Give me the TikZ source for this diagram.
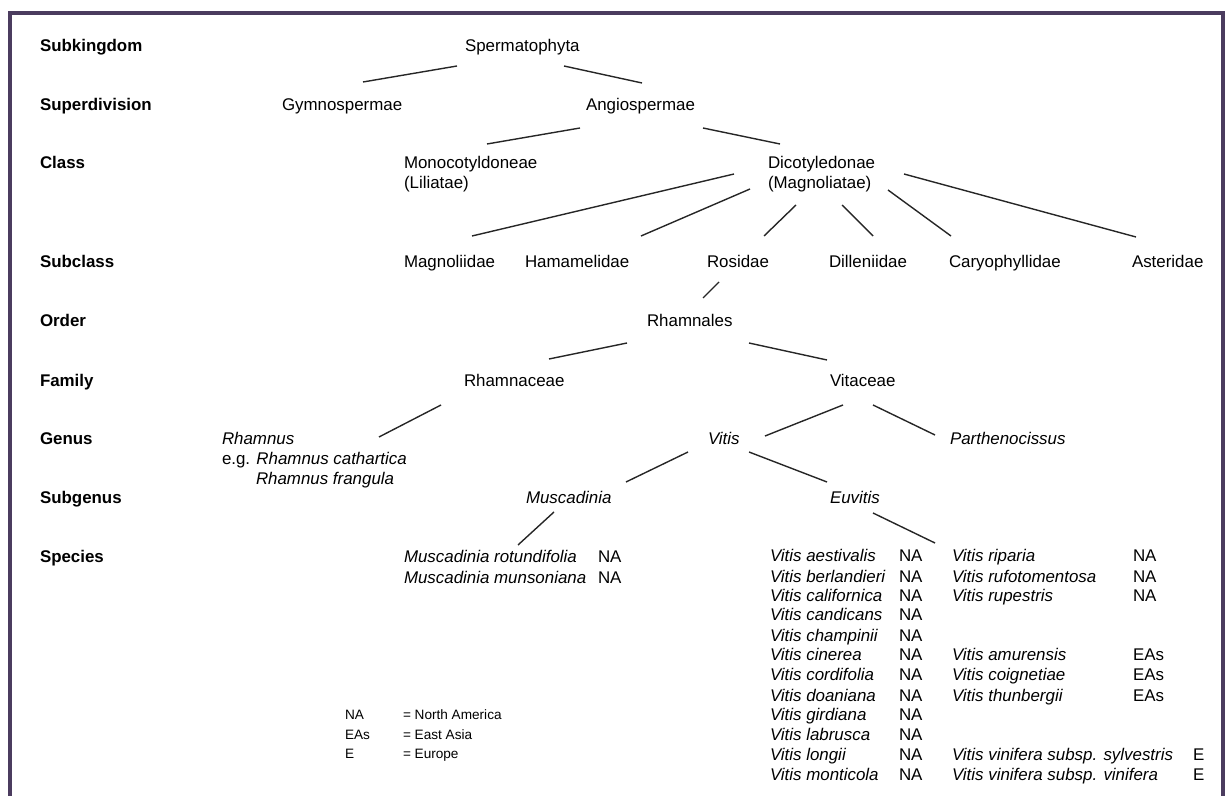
\documentclass[tikz,border=0pt]{standalone}
\usepackage{fontspec}
\setmainfont{Liberation Sans}
\usetikzlibrary{calc}
\definecolor{framepurple}{RGB}{75,60,95}

\begin{document}
\begin{tikzpicture}[x=0.5pt, y=-0.5pt,
    every node/.style={inner sep=0pt, outer sep=0pt, anchor=base west, font=\fontsize{8.45pt}{10pt}\selectfont},
    rank/.style={font=\fontsize{8.45pt}{10pt}\selectfont\bfseries},
    latin/.style={font=\fontsize{8.45pt}{10pt}\selectfont\itshape},
    legend/.style={font=\fontsize{6.8pt}{8pt}\selectfont},
    link/.style={line width=0.7pt, black!85}]
    \useasboundingbox (0,0) rectangle (1227,796);

    %frame
    \draw[framepurple, line width=2pt] (10,796) -- (10,13) -- (1223,13) -- (1223,796);

    %ranks
    \node[rank] (subkingdom) at (40,52) {Subkingdom};
    \node[rank] (superdivision) at (40,111) {Superdivision};
    \node[rank] (class) at (40,169) {Class};
    \node[rank] (subclass) at (40,268) {Subclass};
    \node[rank] (order) at (40,327) {Order};
    \node[rank] (family) at (40,387) {Family};
    \node[rank] (genus) at (40,445) {Genus};
    \node[rank] (subgenus) at (40,504) {Subgenus};
    \node[rank] (species) at (40,563) {Species};

    %taxa
    \node (sperm) at (465,52) {Spermatophyta};
    \node (gymno) at (282,111) {Gymnospermae};
    \node (angio) at (586,111) {Angiospermae};
    \node (monocot) at (404,169) {Monocotyldoneae};
    \node (liliatae) at (404,189) {(Liliatae)};
    \node (dicot) at (768,169) {Dicotyledonae};
    \node (magnoliatae) at (768,189) {(Magnoliatae)};
    \node (magnoliidae) at (404,268) {Magnoliidae};
    \node (hamamelidae) at (525,268) {Hamamelidae};
    \node (rosidae) at (707,268) {Rosidae};
    \node (dilleniidae) at (829,268) {Dilleniidae};
    \node (caryo) at (949,268) {Caryophyllidae};
    \node (asteridae) at (1132,268) {Asteridae};
    \node (rhamnales) at (647,327) {Rhamnales};
    \node (rhamnaceae) at (464,387) {Rhamnaceae};
    \node (vitaceae) at (830,387) {Vitaceae};
    \node[latin] (rhamnus) at (222,445) {Rhamnus};
    \node (rhamnuseg) at (222,465) {e.g. \textit{Rhamnus cathartica}};
    \node[latin] (rhamnusfr) at (256,485) {Rhamnus frangula};
    \node[latin] (vitis) at (708,445) {Vitis};
    \node[latin] (parth) at (950,445) {Parthenocissus};
    \node[latin] (muscadinia) at (526,504) {Muscadinia};
    \node[latin] (euvitis) at (830,504) {Euvitis};

    %species
    \node[latin] (rotund) at (404,563) {Muscadinia rotundifolia};
    \node (rotundreg) at (598,563) {NA};
    \node[latin] (munson) at (404,583) {Muscadinia munsoniana};
    \node (munsonreg) at (598,583) {NA};

    \node[latin] (aestivalis) at (770,562) {Vitis aestivalis};
    \node (aestivalisreg) at (899,562) {NA};
    \node[latin] (berlandieri) at (770,582) {Vitis berlandieri};
    \node (berlandierireg) at (899,582) {NA};
    \node[latin] (californica) at (770,602) {Vitis californica};
    \node (californicareg) at (899,602) {NA};
    \node[latin] (candicans) at (770,621) {Vitis candicans};
    \node (candicansreg) at (899,621) {NA};
    \node[latin] (champinii) at (770,641) {Vitis champinii};
    \node (champiniireg) at (899,641) {NA};
    \node[latin] (cinerea) at (770,661) {Vitis cinerea};
    \node (cinereareg) at (899,661) {NA};
    \node[latin] (cordifolia) at (770,681) {Vitis cordifolia};
    \node (cordifoliareg) at (899,681) {NA};
    \node[latin] (doaniana) at (770,701) {Vitis doaniana};
    \node (doanianareg) at (899,701) {NA};
    \node[latin] (girdiana) at (770,720) {Vitis girdiana};
    \node (girdianareg) at (899,720) {NA};
    \node[latin] (labrusca) at (770,740) {Vitis labrusca};
    \node (labruscareg) at (899,740) {NA};
    \node[latin] (longii) at (770,760) {Vitis longii};
    \node (longiireg) at (899,760) {NA};
    \node[latin] (monticola) at (770,780) {Vitis monticola};
    \node (monticolareg) at (899,780) {NA};

    \node[latin] (riparia) at (952,562) {Vitis riparia};
    \node (ripariareg) at (1133,562) {NA};
    \node[latin] (rufo) at (952,582) {Vitis rufotomentosa};
    \node (rufreg) at (1133,582) {NA};
    \node[latin] (rupestris) at (952,602) {Vitis rupestris};
    \node (rupestrisreg) at (1133,602) {NA};
    \node[latin] (amurensis) at (952,661) {Vitis amurensis};
    \node (amurensisreg) at (1133,661) {EAs};
    \node[latin] (coignetiae) at (952,681) {Vitis coignetiae};
    \node (coignetiaereg) at (1133,681) {EAs};
    \node[latin] (thunbergii) at (952,701) {Vitis thunbergii};
    \node (thunbergiireg) at (1133,701) {EAs};
    \node[latin] (sylvestris) at (952,760) {Vitis vinifera subsp. sylvestris};
    \node (sylvestrisreg) at (1193,760) {E};
    \node[latin] (vinifera) at (952,780) {Vitis vinifera subsp. vinifera};
    \node (viniferareg) at (1193,780) {E};

    %legend
    \node[legend] (keyna) at (345,719) {NA};
    \node[legend] (keynatext) at (403,719) {= North America};
    \node[legend] (keyeas) at (345,739) {EAs};
    \node[legend] (keyeastext) at (403,739) {= East Asia};
    \node[legend] (keye) at (345,758) {E};
    \node[legend] (keyetext) at (403,758) {= Europe};

    %edges
    \draw[link] ($(sperm.base west)+(-8,14)$) -- ($(gymno.base west)+(81,-29)$);
    \draw[link] ($(sperm.base west)+(99,14)$) -- ($(angio.base west)+(56,-28)$);
    \draw[link] ($(angio.base west)+(-6,17)$) -- ($(monocot.base west)+(83,-25)$);
    \draw[link] ($(angio.base west)+(117,17)$) -- ($(dicot.base west)+(12,-25)$);
    \draw[link] ($(dicot.base west)+(-34,5)$) -- ($(magnoliidae.base west)+(68,-32)$);
    \draw[link] ($(dicot.base west)+(-18,20)$) -- ($(hamamelidae.base west)+(116,-32)$);
    \draw[link] ($(dicot.base west)+(28,36)$) -- ($(rosidae.base west)+(57,-32)$);
    \draw[link] ($(dicot.base west)+(74,36)$) -- ($(dilleniidae.base west)+(44,-32)$);
    \draw[link] ($(dicot.base west)+(120,21)$) -- ($(caryo.base west)+(2,-32)$);
    \draw[link] ($(dicot.base west)+(136,5)$) -- ($(asteridae.base west)+(4,-31)$);
    \draw[link] ($(rosidae.base west)+(12,14)$) -- ($(rhamnales.base west)+(56,-29)$);
    \draw[link] ($(rhamnales.base west)+(-20,16)$) -- ($(rhamnaceae.base west)+(85,-28)$);
    \draw[link] ($(rhamnales.base west)+(102,16)$) -- ($(vitaceae.base west)+(-3,-27)$);
    \draw[link] ($(rhamnaceae.base west)+(-23,18)$) -- ($(rhamnus.base west)+(157,-8)$);
    \draw[link] ($(vitaceae.base west)+(13,18)$) -- ($(vitis.base west)+(57,-9)$);
    \draw[link] ($(vitaceae.base west)+(43,18)$) -- ($(parth.base west)+(-15,-10)$);
    \draw[link] ($(vitis.base west)+(-20,7)$) -- ($(muscadinia.base west)+(100,-22)$);
    \draw[link] ($(vitis.base west)+(41,7)$) -- ($(euvitis.base west)+(-3,-22)$);
    \draw[link] ($(muscadinia.base west)+(28,8)$) -- ($(rotund.base west)+(114,-18)$);
    \draw[link] ($(euvitis.base west)+(43,9)$) -- ($(riparia.base west)+(-17,-19)$);
\end{tikzpicture}
\end{document}
